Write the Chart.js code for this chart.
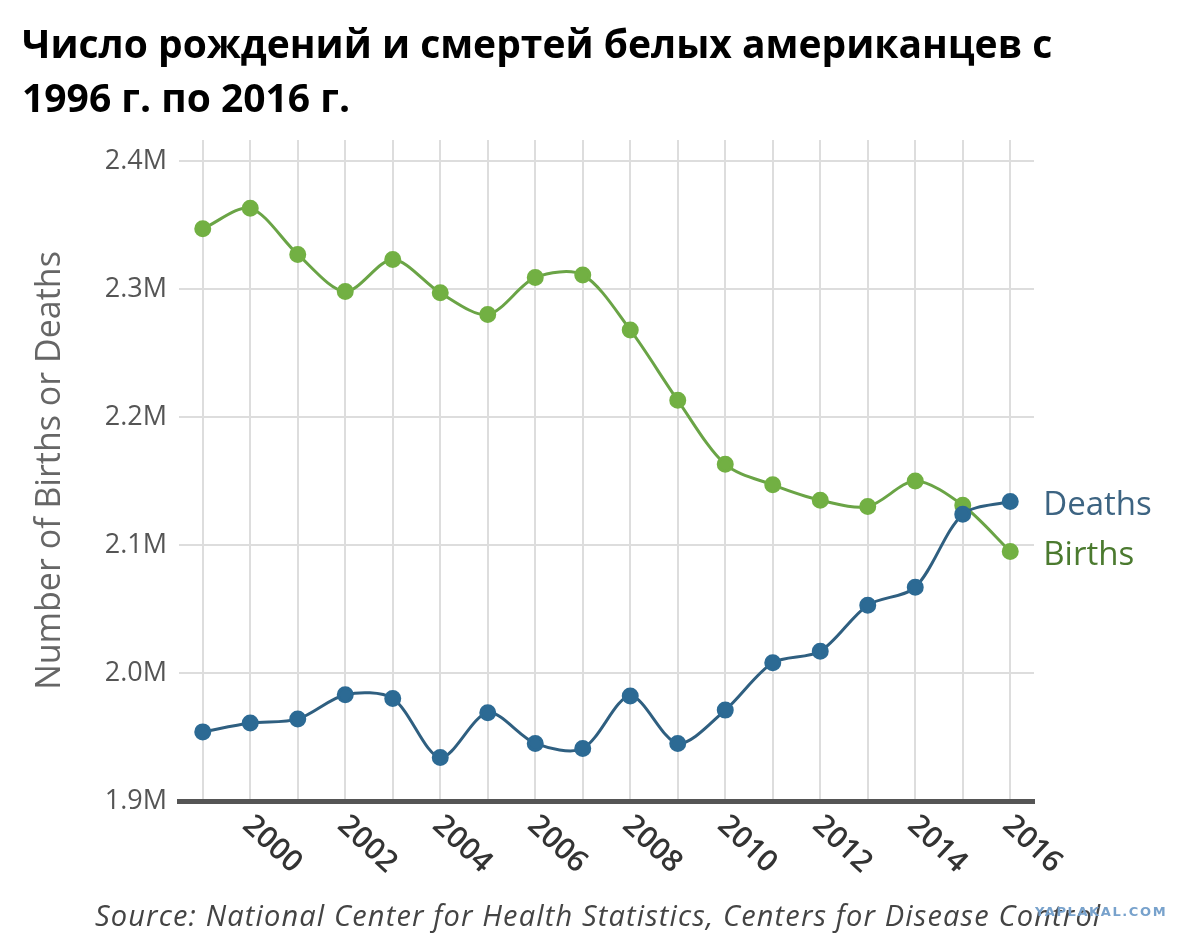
<!DOCTYPE html>
<html><head><meta charset="utf-8">
<script src="https://cdn.jsdelivr.net/npm/chart.js@4.4.0/dist/chart.umd.min.js"></script>
<style>
html,body{margin:0;padding:0;background:#fff;width:1200px;height:944px;overflow:hidden;}
#wrap{position:absolute;left:0;top:0;width:1200px;height:944px;}
#title{position:absolute;left:22px;top:16px;font-family:"Open Sans";font-weight:bold;font-size:39px;line-height:54px;color:#000;white-space:nowrap;}
#source{position:absolute;left:95px;top:895px;font-family:"Open Sans";font-style:italic;font-size:29px;letter-spacing:1.15px;color:#444;white-space:nowrap;}
#wm{position:absolute;left:1035px;top:904px;font-family:"DejaVu Sans";font-weight:bold;font-size:13px;letter-spacing:1.6px;color:#78a2cc;white-space:nowrap;}
</style></head>
<body>
<div id="wrap"><canvas id="c" width="1200" height="944"></canvas></div>
<div id="title">Число рождений и смертей белых американцев с<br>1996 г. по 2016 г.</div>
<div id="source">Source: National Center for Health Statistics, Centers for Disease Control</div>
<div id="wm">YAPLAKAL.COM</div>
<script>
const years = ['1999','2000','2001','2002','2003','2004','2005','2006','2007','2008','2009','2010','2011','2012','2013','2014','2015','2016'];
const births = [2347000,2363000,2327000,2298000,2323000,2297000,2280000,2309000,2311000,2268000,2213000,2163000,2147000,2135000,2130000,2150000,2131000,2095000];
const deaths = [1954000,1961000,1964000,1983000,1980000,1934000,1969000,1945000,1941000,1982000,1945000,1971000,2008000,2017000,2053000,2067000,2124000,2134000];
const xTickLabels = ['2000','2002','2004','2006','2008','2010','2012','2014','2016'];
const yTickValues = [1900000,2000000,2100000,2200000,2300000,2400000];
const seriesNames = ['Deaths','Births'];

const overlay = {
  id: 'overlay',
  afterDatasetsDraw(chart) {
    const ctx = chart.ctx, xs = chart.scales.x, area = chart.chartArea;
    ctx.save();
    ctx.font = '600 30px "Open Sans"';
    ctx.fillStyle = '#333';
    ctx.textAlign = 'left';
    ctx.textBaseline = 'top';
    years.forEach((y, i) => {
      if (!xTickLabels.includes(y)) return;
      const px = xs.getPixelForValue(i);
      ctx.save();
      ctx.translate(px + 7, area.bottom + 9);
      ctx.rotate(43 * Math.PI / 180);
      ctx.fillText(y, 0, 0);
      ctx.restore();
    });
    ctx.font = '33px "Open Sans"';
    ctx.textBaseline = 'middle';
    chart.data.datasets.forEach((ds, di) => {
      const meta = chart.getDatasetMeta(di);
      const pt = meta.data[meta.data.length - 1];
      ctx.fillStyle = ds.labelColor;
      ctx.fillText(ds.label, pt.x + 33, pt.y + 4);
    });
    ctx.restore();
  }
};

new Chart(document.getElementById('c'), {
  type: 'line',
  data: {
    labels: years,
    datasets: [
      { label: seriesNames[0], data: deaths, borderColor: '#2f5f80', backgroundColor: '#2c6a94',
        pointBackgroundColor: '#2c6a94', pointBorderColor: '#2c6a94', labelColor: '#3d6482',
        borderWidth: 3, pointRadius: 7, tension: 0.3, order: 0 },
      { label: seriesNames[1], data: births, borderColor: '#6aa446', backgroundColor: '#72b043',
        pointBackgroundColor: '#72b043', pointBorderColor: '#72b043', labelColor: '#4b7a2f',
        borderWidth: 3, pointRadius: 7, tension: 0.3, order: 1 }
    ]
  },
  options: {
    responsive: false,
    animation: false,
    events: [],
    layout: { padding: { top: 140, right: 166, bottom: 0, left: 0 } },
    plugins: { legend: { display: false }, tooltip: { enabled: false } },
    scales: {
      x: {
        offset: true,
        grid: { color: '#dddddd', lineWidth: 2, drawTicks: false },
        border: { color: '#555555', width: 5 },
        ticks: { display: false },
        afterFit(s) { s.height = 143; }
      },
      y: {
        min: 1900000,
        max: 2416400,
        grid: { color: '#dddddd', lineWidth: 2, drawTicks: false },
        border: { display: false },
        afterBuildTicks(s) { s.ticks = yTickValues.map(v => ({ value: v })); },
        ticks: {
          padding: 12,
          color: '#555',
          font: { family: 'Open Sans', size: 27 },
          callback: v => (v / 1000000).toFixed(1) + 'M'
        },
        title: {
          display: true,
          text: 'Number of Births or Deaths',
          color: '#666',
          font: { family: 'Open Sans', size: 34 },
          padding: { top: 30, bottom: 0 }
        },
        afterFit(s) { s.width = 179; }
      }
    }
  },
  plugins: [overlay]
});
</script>
</body></html>
